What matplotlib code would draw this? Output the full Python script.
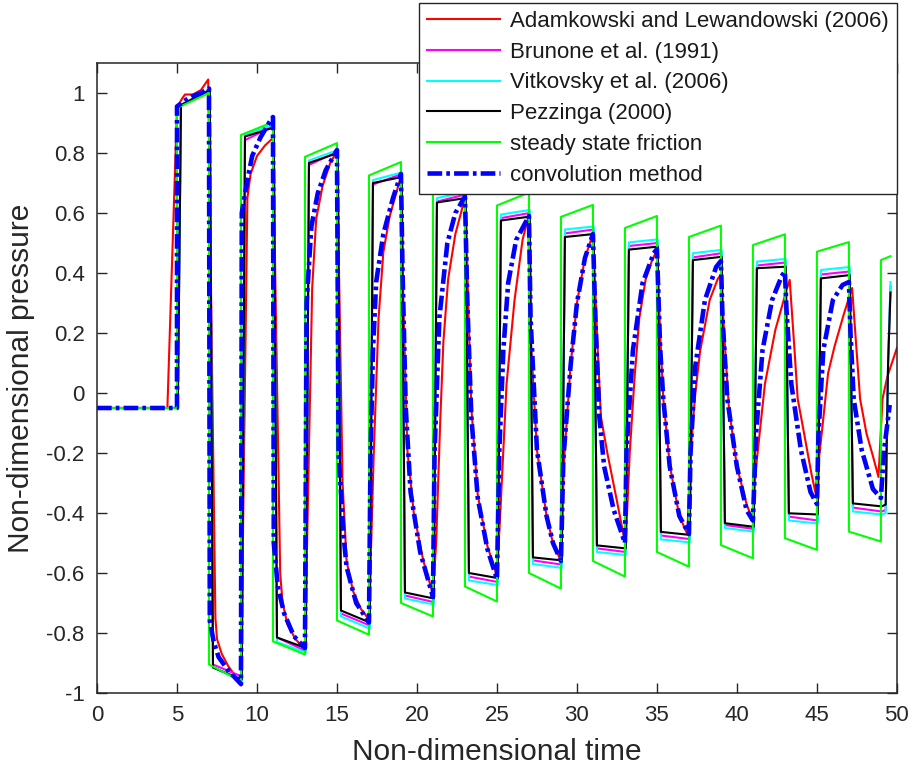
import numpy as np
import matplotlib
matplotlib.use('Agg')
from matplotlib import pyplot as plt

plt.rcParams['font.family'] = ['Liberation Sans', 'DejaVu Sans']
plt.rcParams['axes.unicode_minus'] = False

# wave reflection times (rise at 5, drop at 7, rise at 9 ...)
t_switch = [5, 7, 9, 11, 13, 15, 17, 19, 21, 23, 25, 27, 29, 31, 33, 35, 37, 39, 41, 43, 45, 47]
t_stop = 49
p_init = -0.05

# plateau start / end values of each half cycle
green_start = [0.95, -0.905, 0.86, -0.828, 0.787, -0.758, 0.725, -0.70, 0.665, -0.645, 0.625,
               -0.60, 0.587, -0.56, 0.55, -0.53, 0.52, -0.507, 0.493, -0.484, 0.471, -0.462]
green_end = [1.0, -0.96, 0.903, -0.872, 0.833, -0.806, 0.77, -0.745, 0.715, -0.695, 0.668,
             -0.652, 0.627, -0.612, 0.59, -0.579, 0.558, -0.551, 0.529, -0.523, 0.503, -0.495]
green_tail_t = [49.0, 49.6]
green_tail_p = [0.443, 0.456]

black_start = [0.96, -0.915, 0.855, -0.815, 0.767, -0.725, 0.70, -0.665, 0.635, -0.60, 0.575,
               -0.548, 0.52, -0.508, 0.478, -0.463, 0.443, -0.434, 0.416, -0.401, 0.382, -0.368]
black_end = [1.01, -0.955, 0.885, -0.85, 0.80, -0.765, 0.72, -0.685, 0.65, -0.617, 0.588,
             -0.558, 0.53, -0.518, 0.488, -0.473, 0.454, -0.446, 0.421, -0.405, 0.393, -0.378]
black_tail_t = [49.3, 49.45, 49.6]
black_tail_p = [-0.372, 0.1, 0.335]

cyan_start = [0.96, -0.915, 0.86, -0.83, 0.775, -0.745, 0.71, -0.685, 0.65, -0.625, 0.595,
              -0.57, 0.545, -0.53, 0.502, -0.488, 0.466, -0.45, 0.438, -0.425, 0.41, -0.395]
cyan_end = [1.01, -0.96, 0.895, -0.865, 0.81, -0.785, 0.735, -0.705, 0.668, -0.64, 0.61,
            -0.583, 0.555, -0.54, 0.512, -0.498, 0.477, -0.462, 0.447, -0.435, 0.42, -0.405]
cyan_tail_t = [49.3, 49.45, 49.6]
cyan_tail_p = [-0.40, 0.1, 0.37]

magenta_start = [0.96, -0.905, 0.843, -0.815, 0.76, -0.735, 0.695, -0.675, 0.638, -0.612, 0.583,
                 -0.558, 0.532, -0.518, 0.49, -0.475, 0.452, -0.44, 0.425, -0.412, 0.395, -0.382]
magenta_end = [1.01, -0.945, 0.89, -0.86, 0.805, -0.775, 0.73, -0.697, 0.662, -0.63, 0.60,
               -0.572, 0.545, -0.53, 0.50, -0.487, 0.466, -0.453, 0.435, -0.425, 0.405, -0.395]
magenta_tail_t = [49.3, 49.45, 49.6]
magenta_tail_p = [-0.39, 0.1, 0.355]

# Adamkowski and Lewandowski (2006)
t_red = [0, 4.4, 5.0, 5.3, 5.5, 6.0, 6.5, 6.95,
         7.4, 7.5, 7.8, 8.2, 8.6, 9.0,
         9.4, 9.6, 10.0, 10.5, 11.0,
         11.45, 11.6, 11.9, 12.4, 13.0,
         13.45, 13.7, 14.1, 14.6, 15.0,
         15.35, 15.6, 16.0, 16.5, 17.0,
         17.3, 17.6, 17.9, 18.3, 18.8, 19.0,
         19.15, 19.4, 19.8, 20.4, 21.0,
         21.2, 21.45, 21.65, 21.95, 22.4, 22.9, 23.05,
         23.2, 23.4, 23.8, 24.4, 25.0,
         25.2, 25.6, 26.1, 26.6, 26.95,
         27.1, 27.5, 28.1, 28.5, 29.0,
         29.2, 29.6, 30.0, 30.5, 31.0,
         31.3, 31.5, 31.9, 32.5, 32.9, 33.05,
         33.3, 33.6, 33.9, 34.3, 34.7, 35.0,
         35.2, 35.4, 35.8, 36.4, 36.9,
         37.1, 37.4, 37.7, 38.3, 38.8, 39.0,
         39.2, 39.5, 40.0, 40.6, 40.95,
         41.2, 41.75, 42.4, 43.1, 43.3,
         43.6, 43.8, 44.2, 44.65, 44.9,
         45.3, 45.7, 46.1, 46.7, 47.2,
         47.4, 47.7, 48.1, 48.5, 48.85,
         49.1, 49.4, 50.0]
p_red = [-0.05, -0.05, 0.95, 0.98, 0.995, 0.995, 1.01, 1.045,
         -0.75, -0.82, -0.87, -0.91, -0.94, -0.975,
         0.65, 0.73, 0.79, 0.825, 0.85,
         -0.6, -0.7, -0.77, -0.82, -0.855,
         0.35, 0.58, 0.69, 0.77, 0.805,
         -0.3, -0.56, -0.66, -0.72, -0.755,
         -0.2, 0.25, 0.47, 0.59, 0.685, 0.72,
         0.3, -0.19, -0.4, -0.56, -0.67,
         -0.5, -0.1, 0.17, 0.38, 0.53, 0.63, 0.645,
         0.3, -0.05, -0.34, -0.51, -0.61,
         -0.41, 0.03, 0.31, 0.51, 0.585,
         0.2, -0.19, -0.41, -0.5, -0.56,
         -0.22, 0.09, 0.3, 0.45, 0.53,
         0.143, -0.08, -0.2, -0.36, -0.47, -0.5,
         -0.2, 0.05, 0.25, 0.38, 0.443, 0.475,
         0.2, -0.02, -0.24, -0.41, -0.47,
         -0.2, 0.0, 0.14, 0.31, 0.38, 0.395,
         0.2, -0.05, -0.245, -0.37, -0.42,
         -0.245, 0.03, 0.21, 0.343, 0.377,
         0.143, -0.02, -0.135, -0.267, -0.33,
         -0.135, 0.066, 0.155, 0.266, 0.35,
         0.2, -0.02, -0.135, -0.21, -0.28,
         -0.02, 0.054, 0.15]

# convolution method
t_blue = [0, 5.0, 5.0, 5.5, 6.0, 6.5, 7.0,
          7.05, 7.3, 7.6, 8.2, 9.0,
          9.05, 9.4, 9.7, 10.2, 10.8, 11.0,
          11.05, 11.3, 11.7, 12.3, 13.0,
          13.1, 13.4, 13.8, 14.3, 15.0,
          15.1, 15.4, 15.6, 16.2, 17.0,
          17.1, 17.25, 17.45, 17.9, 18.5, 19.0,
          19.1, 19.3, 19.6, 20.2, 21.0,
          21.1, 21.4, 21.9, 22.4, 23.0,
          23.15, 23.4, 23.8, 24.4, 25.0,
          25.15, 25.4, 25.7, 26.2, 27.0,
          27.1, 27.5, 28.1, 28.5, 29.0,
          29.15, 29.6, 30.0, 30.5, 31.0,
          31.15, 31.4, 31.7, 32.3, 33.0,
          33.1, 33.5, 34.1, 34.8, 35.0,
          35.2, 35.4, 35.8, 36.4, 37.0,
          37.1, 37.4, 38.0, 38.7, 39.0,
          39.1, 39.4, 40.0, 40.6, 41.0,
          41.2, 41.6, 42.2, 42.8, 43.0,
          43.1, 43.4, 44.0, 44.6, 45.0,
          45.1, 45.4, 46.0, 46.6, 47.0,
          47.1, 47.3, 47.8, 48.5, 49.0,
          49.2, 49.55]
p_blue = [-0.05, -0.05, 0.955, 0.975, 0.99, 1.0, 1.015,
          -0.76, -0.83, -0.88, -0.925, -0.97,
          0.6, 0.71, 0.79, 0.85, 0.905, 0.92,
          -0.5, -0.645, -0.735, -0.81, -0.85,
          0.3, 0.555, 0.666, 0.743, 0.81,
          -0.2, -0.467, -0.58, -0.70, -0.765,
          -0.2, 0.14, 0.37, 0.53, 0.65, 0.73,
          0.4, -0.05, -0.33, -0.53, -0.68,
          -0.2, 0.25, 0.5, 0.6, 0.655,
          0.3, -0.08, -0.35, -0.52, -0.62,
          -0.19, 0.143, 0.366, 0.51, 0.59,
          0.25, -0.19, -0.41, -0.5, -0.56,
          -0.22, 0.09, 0.3, 0.45, 0.53,
          0.25, -0.08, -0.245, -0.39, -0.50,
          -0.19, 0.143, 0.366, 0.466, 0.48,
          0.15, -0.02, -0.245, -0.41, -0.47,
          -0.2, 0.09, 0.31, 0.42, 0.44,
          0.25, -0.02, -0.245, -0.39, -0.425,
          -0.135, 0.143, 0.31, 0.39, 0.405,
          0.276, 0.03, -0.19, -0.33, -0.37,
          -0.135, 0.143, 0.31, 0.36, 0.37,
          0.2, -0.02, -0.19, -0.32, -0.35,
          -0.19, -0.04]

x_ticks = [0, 5, 10, 15, 20, 25, 30, 35, 40, 45, 50]
y_ticks = [-1, -0.8, -0.6, -0.4, -0.2, 0, 0.2, 0.4, 0.6, 0.8, 1]
y_labels = ['-1', '-0.8', '-0.6', '-0.4', '-0.2', '0', '0.2', '0.4', '0.6', '0.8', '1']


def square_wave(start, end, tail_t, tail_p, delay, rise):
    # joins the plateaus, one per half cycle
    t = [0, t_switch[0] + delay]
    p = [p_init, p_init]
    for i, s in enumerate(t_switch):
        nxt = t_switch[i + 1] if i + 1 < len(t_switch) else t_stop
        t += [s + delay + rise, nxt + delay]
        p += [start[i], end[i]]
    return t + tail_t, p + tail_p


fig = plt.figure(figsize=(9.1, 7.73), dpi=100)
ax = fig.add_axes([0.1066, 0.1035, 0.879, 0.815])

ax.plot(t_red, p_red, color='#ff0000', lw=1.5, label='Adamkowski and Lewandowski (2006)')
t, p = square_wave(magenta_start, magenta_end, magenta_tail_t, magenta_tail_p, 0.05, 0.2)
ax.plot(t, p, color='#ff00ff', lw=1.5, label='Brunone et al. (1991)')
t, p = square_wave(cyan_start, cyan_end, cyan_tail_t, cyan_tail_p, 0.05, 0.2)
ax.plot(t, p, color='#00ffff', lw=1.5, label='Vitkovsky et al. (2006)')
t, p = square_wave(black_start, black_end, black_tail_t, black_tail_p, 0.05, 0.2)
ax.plot(t, p, color='black', lw=1.5, label='Pezzinga (2000)')
t, p = square_wave(green_start, green_end, green_tail_t, green_tail_p, 0.0, 0.0)
ax.plot(t, p, color='#00ff00', lw=1.5, label='steady state friction')
ax.plot(t_blue, p_blue, color='#0000ff', lw=3.3, dashes=(3.2, 0.9, 0.8, 0.9),
        label='convolution method')

ax.set_xlim(0, 50)
ax.set_ylim(-1, 1.1)
ax.set_xticks(x_ticks)
ax.set_yticks(y_ticks)
ax.set_yticklabels(y_labels)
ax.tick_params(direction='in', top=True, right=True, length=7, width=1.0,
               color='#262626', labelcolor='#262626', labelsize=16, pad=9)
for sp in ax.spines.values():
    sp.set_color('#262626')
    sp.set_linewidth(1.1)

ax.set_xlabel('Non-dimensional time', fontsize=21.5, color='#262626', labelpad=8)
ax.set_ylabel('Non-dimensional pressure', fontsize=21.5, color='#262626', labelpad=8)

leg = ax.legend(loc='upper right', bbox_to_anchor=(0.9857, 0.996), bbox_transform=fig.transFigure,
                fontsize=16, fancybox=False, framealpha=1, edgecolor='#262626', borderaxespad=0,
                handlelength=3.3, handletextpad=0.45, labelspacing=0.44, borderpad=0.35)
leg.get_frame().set_linewidth(1.0)
for txt in leg.get_texts():
    txt.set_color('#1a1a1a')

fig.savefig('out.png', dpi=100)
